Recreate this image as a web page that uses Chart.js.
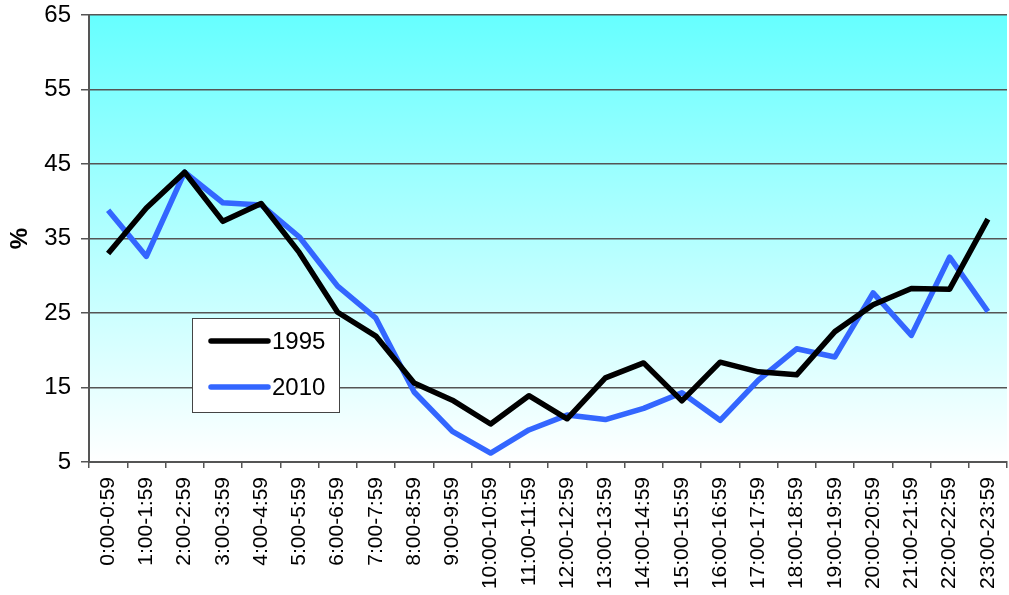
<!DOCTYPE html>
<html>
<head>
<meta charset="utf-8">
<script src="https://cdn.jsdelivr.net/npm/chart.js@4"></script>
<style>
  html, body { margin: 0; padding: 0; background: #fff; }
  #wrap { width: 1009px; height: 595px; }
</style>
</head>
<body>
<div id="wrap"><canvas id="chart" width="1009" height="595"></canvas></div>
<script>
const hours = ['0:00-0:59', '1:00-1:59', '2:00-2:59', '3:00-3:59', '4:00-4:59', '5:00-5:59',
  '6:00-6:59', '7:00-7:59', '8:00-8:59', '9:00-9:59', '10:00-10:59', '11:00-11:59',
  '12:00-12:59', '13:00-13:59', '14:00-14:59', '15:00-15:59', '16:00-16:59', '17:00-17:59',
  '18:00-18:59', '19:00-19:59', '20:00-20:59', '21:00-21:59', '22:00-22:59', '23:00-23:59'];

const values1995 = [33.0, 39.1, 43.9, 37.3, 39.7, 33.1, 25.1, 21.9, 15.6, 13.3, 10.1, 13.9,
  10.8, 16.3, 18.3, 13.2, 18.4, 17.1, 16.7, 22.5, 26.1, 28.3, 28.2, 37.6];
const values2010 = [38.8, 32.6, 43.9, 39.8, 39.5, 35.2, 28.6, 24.3, 14.4, 9.1, 6.2, 9.3,
  11.3, 10.7, 12.2, 14.3, 10.6, 16.0, 20.2, 19.1, 27.7, 22.0, 32.5, 25.2];

const yMin = 5;
const yMax = 65;
const yStep = 10;

// gradient behind the plot area
const plotBackground = {
  id: 'plotBackground',
  beforeDraw(chart) {
    const { ctx, chartArea } = chart;
    const g = ctx.createLinearGradient(0, chartArea.top, 0, chartArea.bottom);
    g.addColorStop(0, '#66ffff');
    g.addColorStop(1, '#ffffff');
    ctx.save();
    ctx.fillStyle = g;
    ctx.fillRect(chartArea.left, chartArea.top, chartArea.right - chartArea.left, chartArea.bottom - chartArea.top);
    ctx.restore();
  }
};

// boxed legend sitting inside the plot
const boxLegend = {
  id: 'boxLegend',
  afterDatasetsDraw(chart) {
    const { ctx, chartArea } = chart;
    const x = chartArea.left + 103;
    const y = chartArea.top + 303;
    const w = 147, h = 94;
    ctx.save();
    ctx.fillStyle = '#ffffff';
    ctx.fillRect(x, y, w, h);
    ctx.strokeStyle = '#444';
    ctx.lineWidth = 1;
    ctx.strokeRect(x + 0.5, y + 0.5, w, h);
    ctx.font = '24px "Liberation Sans", Arial, sans-serif';
    ctx.textBaseline = 'middle';
    chart.data.datasets.forEach((ds, i) => {
      const ly = y + 23 + i * 46;
      ctx.strokeStyle = ds.borderColor;
      ctx.lineWidth = 5.5;
      ctx.lineCap = 'round';
      ctx.beginPath();
      ctx.moveTo(x + 19, ly);
      ctx.lineTo(x + 76, ly);
      ctx.stroke();
      ctx.fillStyle = '#000';
      ctx.fillText(ds.label, x + 80, ly + 1);
    });
    ctx.restore();
  }
};

const ctx = document.getElementById('chart').getContext('2d');
const chart = new Chart(ctx, {
  type: 'line',
  data: {
    labels: hours,
    datasets: [
      {
        label: '1995',
        data: values1995,
        borderColor: '#000000',
        borderWidth: 5.5,
        pointRadius: 0,
        tension: 0,
        borderJoinStyle: 'round'
      },
      {
        label: '2010',
        data: values2010,
        borderColor: '#3366ff',
        borderWidth: 5.5,
        pointRadius: 0,
        tension: 0,
        borderJoinStyle: 'round'
      }
    ]
  },
  options: {
    responsive: false,
    animation: false,
    layout: { padding: { top: 15, right: 2, left: 0, bottom: 0 } },
    plugins: {
      legend: { display: false },
      tooltip: { enabled: false }
    },
    scales: {
      x: {
        offset: true,
        grid: {
          offset: true,
          drawOnChartArea: false,
          drawTicks: true,
          tickLength: 6,
          color: '#555',
          lineWidth: 1.5
        },
        border: { color: '#555', width: 2 },
        ticks: {
          color: '#000',
          minRotation: 90,
          maxRotation: 90,
          autoSkip: false,
          padding: 9,
          font: { family: '"Liberation Sans", Arial, sans-serif', size: 21 }
        },
        afterFit(scale) {
          scale.height = 133;
          scale.paddingLeft = 0;
          scale.paddingRight = 0;
        }
      },
      y: {
        min: yMin,
        max: yMax,
        grid: {
          color: '#555',
          lineWidth: 1.5,
          tickLength: 8
        },
        border: { color: '#555', width: 2 },
        ticks: {
          stepSize: yStep,
          color: '#000',
          padding: 10,
          font: { family: '"Liberation Sans", Arial, sans-serif', size: 24 }
        },
        title: {
          display: true,
          text: '%',
          color: '#000',
          font: { family: '"Liberation Sans", Arial, sans-serif', size: 24, weight: 'bold' },
          padding: { top: 6, bottom: 0 }
        },
        afterFit(scale) {
          scale.width = 89;
          scale.paddingTop = 0;
          scale.paddingBottom = 0;
        }
      }
    }
  },
  plugins: [plotBackground, boxLegend]
});
</script>
</body>
</html>
